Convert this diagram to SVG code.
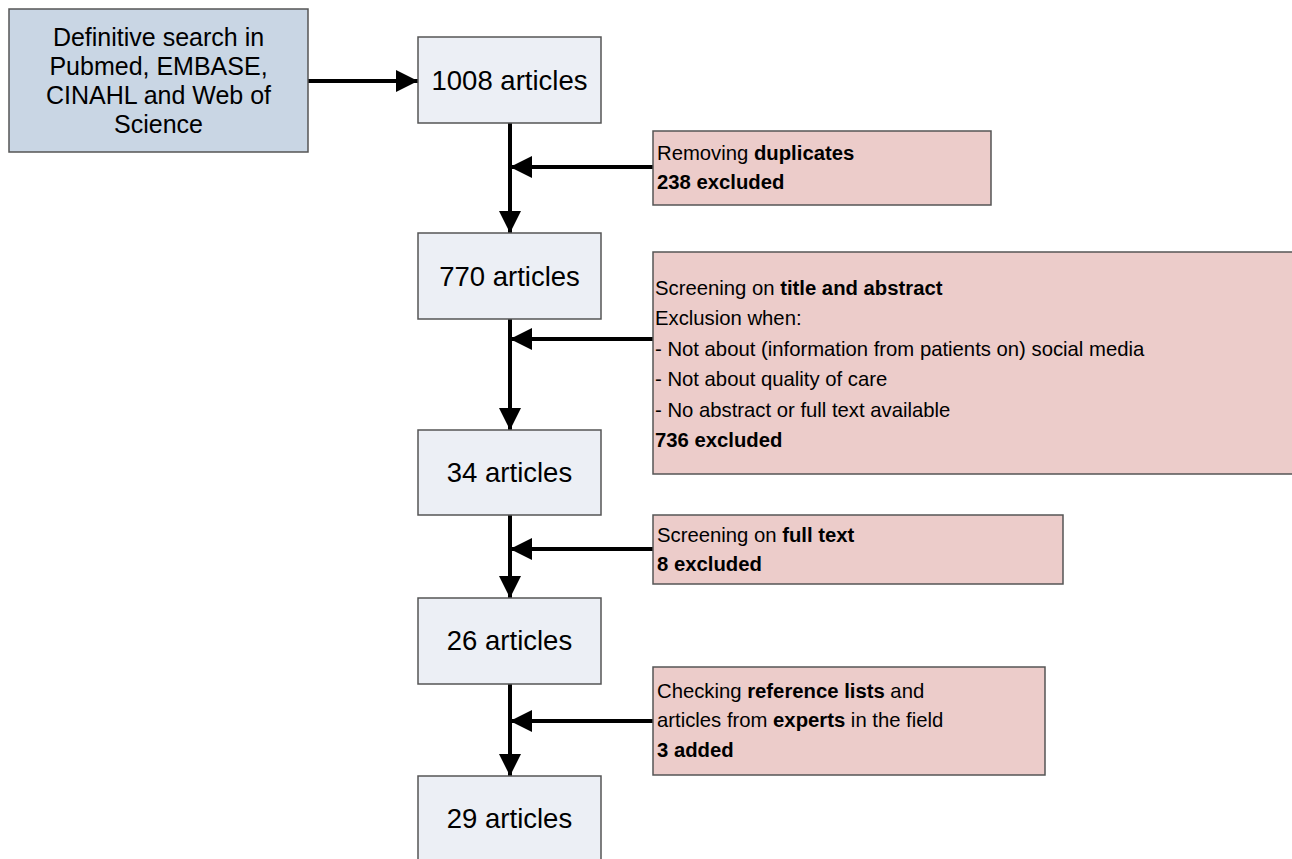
<svg xmlns="http://www.w3.org/2000/svg" width="1292" height="859" viewBox="0 0 1292 859">
<style>
text{font-family:"Liberation Sans",Arial,sans-serif;fill:#000}
.blue{fill:#c9d6e4;stroke:#555;stroke-width:1.5}
.gray{fill:#eceff5;stroke:#555;stroke-width:1.5}
.pink{fill:#ecccca;stroke:#555;stroke-width:1.5}
.big{font-size:27.5px;text-anchor:middle}
.src{font-size:25px;text-anchor:middle}
.sm{font-size:20.3px}
.b{font-weight:bold}
.ln{stroke:#000;stroke-width:4;fill:none}
</style>
<defs>
<marker id="ah" viewBox="0 0 22 22" refX="22" refY="11" markerWidth="22" markerHeight="22" markerUnits="userSpaceOnUse" orient="auto">
<path d="M0,0 L22,11 L0,22 Z" fill="#000"/>
</marker>
</defs>
<rect width="1292" height="859" fill="#fff"/>
<g id="connectors">
<line class="ln" x1="308" y1="81" x2="418" y2="81" marker-end="url(#ah)"/>
<line class="ln" x1="510" y1="123" x2="510" y2="233" marker-end="url(#ah)"/>
<line class="ln" x1="653" y1="167" x2="510" y2="167" marker-end="url(#ah)"/>
<line class="ln" x1="510" y1="319" x2="510" y2="430" marker-end="url(#ah)"/>
<line class="ln" x1="653" y1="339" x2="510" y2="339" marker-end="url(#ah)"/>
<line class="ln" x1="510" y1="515" x2="510" y2="598" marker-end="url(#ah)"/>
<line class="ln" x1="653" y1="549" x2="510" y2="549" marker-end="url(#ah)"/>
<line class="ln" x1="510" y1="684" x2="510" y2="776" marker-end="url(#ah)"/>
<line class="ln" x1="653" y1="721" x2="510" y2="721" marker-end="url(#ah)"/>
</g>
<g id="search">
<rect class="blue" x="9" y="9" width="299" height="143"/>
<text class="src" x="158.5" y="46">Definitive search in</text>
<text class="src" x="158.5" y="75">Pubmed, EMBASE,</text>
<text class="src" x="158.5" y="104">CINAHL and Web of</text>
<text class="src" x="158.5" y="133">Science</text>
</g>
<g id="n1008">
<rect class="gray" x="418" y="37" width="183" height="86"/>
<text class="big" x="509.5" y="90">1008 articles</text>
</g>
<g id="dup">
<rect class="pink" x="653" y="131" width="338" height="74"/>
<text class="sm" x="657" y="160">Removing <tspan class="b">duplicates</tspan></text>
<text class="sm b" x="657" y="189">238 excluded</text>
</g>
<g id="n770">
<rect class="gray" x="418" y="233" width="183" height="86"/>
<text class="big" x="509.5" y="286">770 articles</text>
</g>
<g id="tiab">
<rect class="pink" x="653" y="252" width="645" height="222"/>
<text class="sm" x="655" y="295">Screening on <tspan class="b">title and abstract</tspan></text>
<text class="sm" x="655" y="325">Exclusion when:</text>
<text class="sm" x="655" y="356">- Not about (information from patients on) social media</text>
<text class="sm" x="655" y="386">- Not about quality of care</text>
<text class="sm" x="655" y="417">- No abstract or full text available</text>
<text class="sm b" x="655" y="447">736 excluded</text>
</g>
<g id="n34">
<rect class="gray" x="418" y="430" width="183" height="85"/>
<text class="big" x="509.5" y="482">34 articles</text>
</g>
<g id="fulltext">
<rect class="pink" x="653" y="515" width="410" height="69"/>
<text class="sm" x="657" y="542">Screening on <tspan class="b">full text</tspan></text>
<text class="sm b" x="657" y="571">8 excluded</text>
</g>
<g id="n26">
<rect class="gray" x="418" y="598" width="183" height="86"/>
<text class="big" x="509.5" y="650">26 articles</text>
</g>
<g id="refs">
<rect class="pink" x="653" y="667" width="392" height="108"/>
<text class="sm" x="657" y="698">Checking <tspan class="b">reference lists</tspan> and</text>
<text class="sm" x="657" y="727">articles from <tspan class="b">experts</tspan> in the field</text>
<text class="sm b" x="657" y="757">3 added</text>
</g>
<g id="n29">
<rect class="gray" x="418" y="776" width="183" height="100"/>
<text class="big" x="509.5" y="828">29 articles</text>
</g>
</svg>
